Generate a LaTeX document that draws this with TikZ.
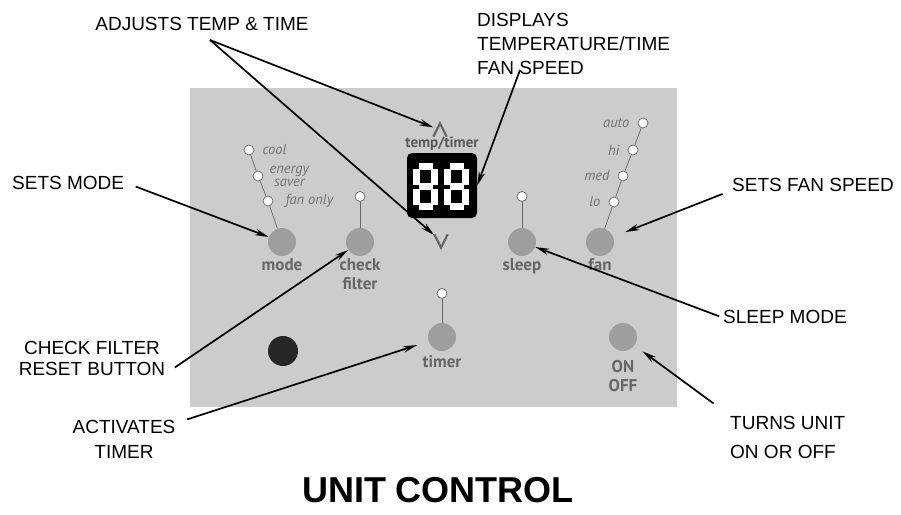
\documentclass[tikz,border=0pt]{standalone}
\usepackage{fontspec}
\setmainfont{Liberation Sans}
\newfontfamily\panelfont{PT Sans}
\usetikzlibrary{positioning,arrows.meta}

\begin{document}
\begin{tikzpicture}[x=1pt,y=-1pt,
    callout/.style={font=\fontsize{19}{24}\selectfont,inner sep=2pt},
    pointer/.style={-{Stealth[length=14pt,width=6.5pt]},line width=1.7pt},
    button/.style={circle,fill=black!38,minimum size=28pt,inner sep=0pt},
    led/.style={circle,draw=black!60,fill=white,line width=0.7pt,minimum size=10pt,inner sep=0pt},
    keylabel/.style={font=\panelfont\bfseries\fontsize{17}{19}\selectfont,text=black!60,inner sep=1pt,align=center},
    ledlabel/.style={font=\panelfont\itshape\fontsize{14.5}{13}\selectfont,text=black!55,inner sep=1pt,align=center},
    chev/.style={minimum width=13pt,minimum height=13pt,inner sep=0pt},
    chevline/.style={draw=black!60,line width=2.2pt},
    wire/.style={draw=black!60,line width=0.7pt},
    segment/.style={draw=white,line width=7pt}]
    \useasboundingbox (0,0) rectangle (901,514);

    % control panel
    \fill[black!20] (190,88) rectangle (677,407);

    % buttons
    \node[button] (mode) at (282,242) {};
    \node[button] (check) at (360,242) {};
    \node[button] (sleep) at (522,242) {};
    \node[button] (fan) at (600,242) {};
    \node[button] (timer) at (442,337) {};
    \node[button] (onoff) at (623,337) {};
    \node[circle,fill=black!85,minimum size=30pt] (sensor) at (283,351) {};

    \node[keylabel] (modetxt) [below=1pt of mode] {mode};
    \node[keylabel] (checktxt) [below=1pt of check] {check\\filter};
    \node[keylabel] (sleeptxt) [below=1pt of sleep] {sleep};
    \node[keylabel] (fantxt) [below=1pt of fan] {fan};
    \node[keylabel] (timertxt) [below=3pt of timer] {timer};
    \node[keylabel] (onofftxt) [below=8pt of onoff] {ON\\OFF};

    % indicator lights
    \node[led] (checkled) [above=26pt of check] {};
    \node[led] (sleepled) [above=26pt of sleep] {};
    \node[led] (timerled) [above=24pt of timer] {};
    \node[led] (cool) at (249,150) {};
    \node[led] (saver) at (258,176) {};
    \node[led] (fanonly) at (268,201) {};
    \node[led] (auto) at (643,123) {};
    \node[led] (hi) at (633,150) {};
    \node[led] (med) at (623,176) {};
    \node[led] (lo) at (614,202) {};

    \node[ledlabel] (cooltxt) [right=7pt of cool] {cool};
    \node[ledlabel] (savertxt) [right=5pt of saver] {energy\\saver};
    \node[ledlabel] (fanonlytxt) [right=11pt of fanonly] {fan only};
    \node[ledlabel] (autotxt) [left=7pt of auto] {auto};
    \node[ledlabel] (hitxt) [left=7pt of hi] {hi};
    \node[ledlabel] (medtxt) [left=7pt of med] {med};
    \node[ledlabel] (lotxt) [left=7pt of lo] {lo};

    \path[wire]
        (cool) edge (saver)
        (saver) edge (fanonly)
        (fanonly) edge (mode)
        (checkled) edge (check)
        (sleepled) edge (sleep)
        (timerled) edge (timer)
        (auto) edge (hi)
        (hi) edge (med)
        (med) edge (lo)
        (lo) edge (fan);

    % display
    \node[fill=black,rounded corners=5pt,minimum width=70pt,minimum height=65pt,inner sep=0pt] (disp) at (442,185.5) {};
    \foreach \dx in {413,444} {
        \draw[segment] (\dx+5.5,166.5) -- (\dx+19.5,166.5) (\dx+5.5,186.5) -- (\dx+19.5,186.5)
            (\dx+5.5,206.5) -- (\dx+19.5,206.5)
            (\dx+3.5,168.5) -- (\dx+3.5,184.5) (\dx+3.5,188.5) -- (\dx+3.5,204.5)
            (\dx+21.5,168.5) -- (\dx+21.5,184.5) (\dx+21.5,188.5) -- (\dx+21.5,204.5);
    }
    \node[keylabel,font=\panelfont\bfseries\fontsize{15}{17}\selectfont,text=black!65] (templbl) [above=1pt of disp] {temp/timer};
    \node[chev] (up) at (440,130) {};
    \node[chev] (down) at (441,241) {};
    \draw[chevline] (up.south west) -- (up.north) -- (up.south east);
    \draw[chevline] (down.north west) -- (down.south) -- (down.north east);

    % callouts
    \node[callout] (adjust) at (202,24) {ADJUSTS TEMP \& TIME};
    \node[callout,align=left,anchor=west] (dispnote) at (475,44) {DISPLAYS\\TEMPERATURE/TIME\\FAN SPEED};
    \node[callout,anchor=west] (setsmode) at (10,183) {SETS MODE};
    \node[callout,align=center,font=\fontsize{19}{21}\selectfont] (checknote) at (92,358.5) {CHECK FILTER\\RESET BUTTON};
    \node[callout,align=center,font=\fontsize{19}{25}\selectfont] (actnote) at (124,439.5) {ACTIVATES\\TIMER};
    \node[callout,anchor=west] (fannote) at (730,185) {SETS FAN SPEED};
    \node[callout,anchor=west] (sleepnote) at (721,317) {SLEEP MODE};
    \node[callout,align=left,anchor=west,font=\fontsize{19}{29}\selectfont] (turnnote) at (728,437.5) {TURNS UNIT\\ON OR OFF};

    \coordinate (adjfoot) at (210,40);
    \coordinate (dispfoot) at (520,70);
    \path[pointer]
        (adjfoot) edge (up)
        (adjfoot) edge (down)
        (dispfoot) edge (disp.east)
        (setsmode.east) edge[shorten <=10pt] (mode)
        ([yshift=-14pt]checknote.east) edge[shorten <=9pt] (check)
        ([yshift=17pt]actnote.east) edge[shorten <=10pt,shorten >=12pt] (timer)
        ([yshift=-6pt]fannote.west) edge[shorten <=8pt,shorten >=13pt] (fan)
        (sleepnote.west) edge[shorten <=2pt] (sleep)
        (turnnote.north west) edge[shorten <=18pt,shorten >=10pt] (onoff);

    \node[font=\bfseries\fontsize{36}{40}\selectfont] (title) at (438,490) {UNIT CONTROL};
\end{tikzpicture}
\end{document}
